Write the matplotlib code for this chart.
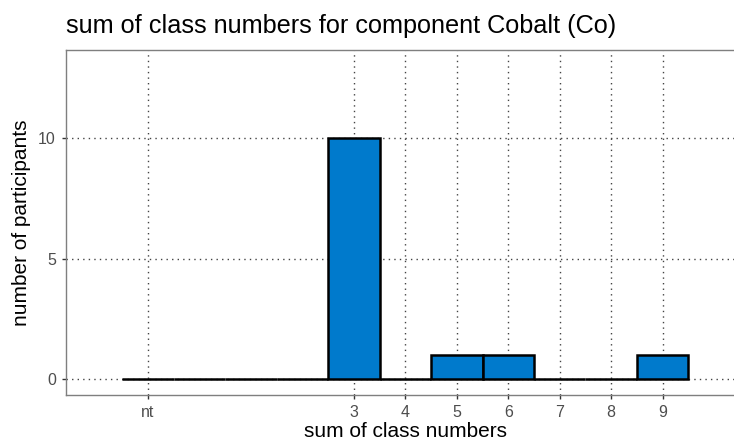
import matplotlib
matplotlib.use("Agg")
import matplotlib.pyplot as plt

# data: sum of class numbers (-1 stands for "nt") and participant counts
positions = [-1, 0, 1, 2, 3, 4, 5, 6, 7, 8, 9]
counts = [0, 0, 0, 0, 10, 0, 1, 1, 0, 0, 1]
tick_pos = [-1, 3, 4, 5, 6, 7, 8, 9]
tick_labels = ["nt", "3", "4", "5", "6", "7", "8", "9"]
y_ticks = [0, 5, 10]

plt.rcParams['font.family'] = ['Liberation Sans', 'DejaVu Sans']

fig = plt.figure(figsize=(7.34, 4.43), dpi=100)
# panel runs past the right edge, like the cropped original
ax = fig.add_axes([65.7 / 734, 48 / 443, 679.3 / 734, 345 / 443])

ax.bar(positions, counts, width=1.0, color='#007ACC', edgecolor='black',
       linewidth=1.8, zorder=3)

ax.set_xlim(-2.6, 10.6)
ax.set_ylim(-0.65, 13.65)
ax.set_xticks(tick_pos)
ax.set_xticklabels(tick_labels)
ax.set_yticks(y_ticks)

ax.grid(True, color='#444444', linestyle=(0, (1, 3)), linewidth=1.0, zorder=0)
for s in ax.spines.values():
    s.set_color('#7F7F7F')
    s.set_linewidth(1.0)

ax.tick_params(axis='both', colors='#333333', labelcolor='#4D4D4D',
               labelsize=11.5, length=3, width=1, pad=4)

fig.text(65.7 / 734, 1 - 33 / 443, "sum of class numbers for component Cobalt (Co)",
         fontsize=18.2, ha='left', va='baseline')
fig.text(405 / 734, 1 - 437 / 443, "sum of class numbers", fontsize=15,
         ha='center', va='baseline')
fig.text(22 / 734, 1 - 222.5 / 443, "number of participants", fontsize=15,
         rotation=90, ha='center', va='center')

fig.savefig("out.png", dpi=100)
